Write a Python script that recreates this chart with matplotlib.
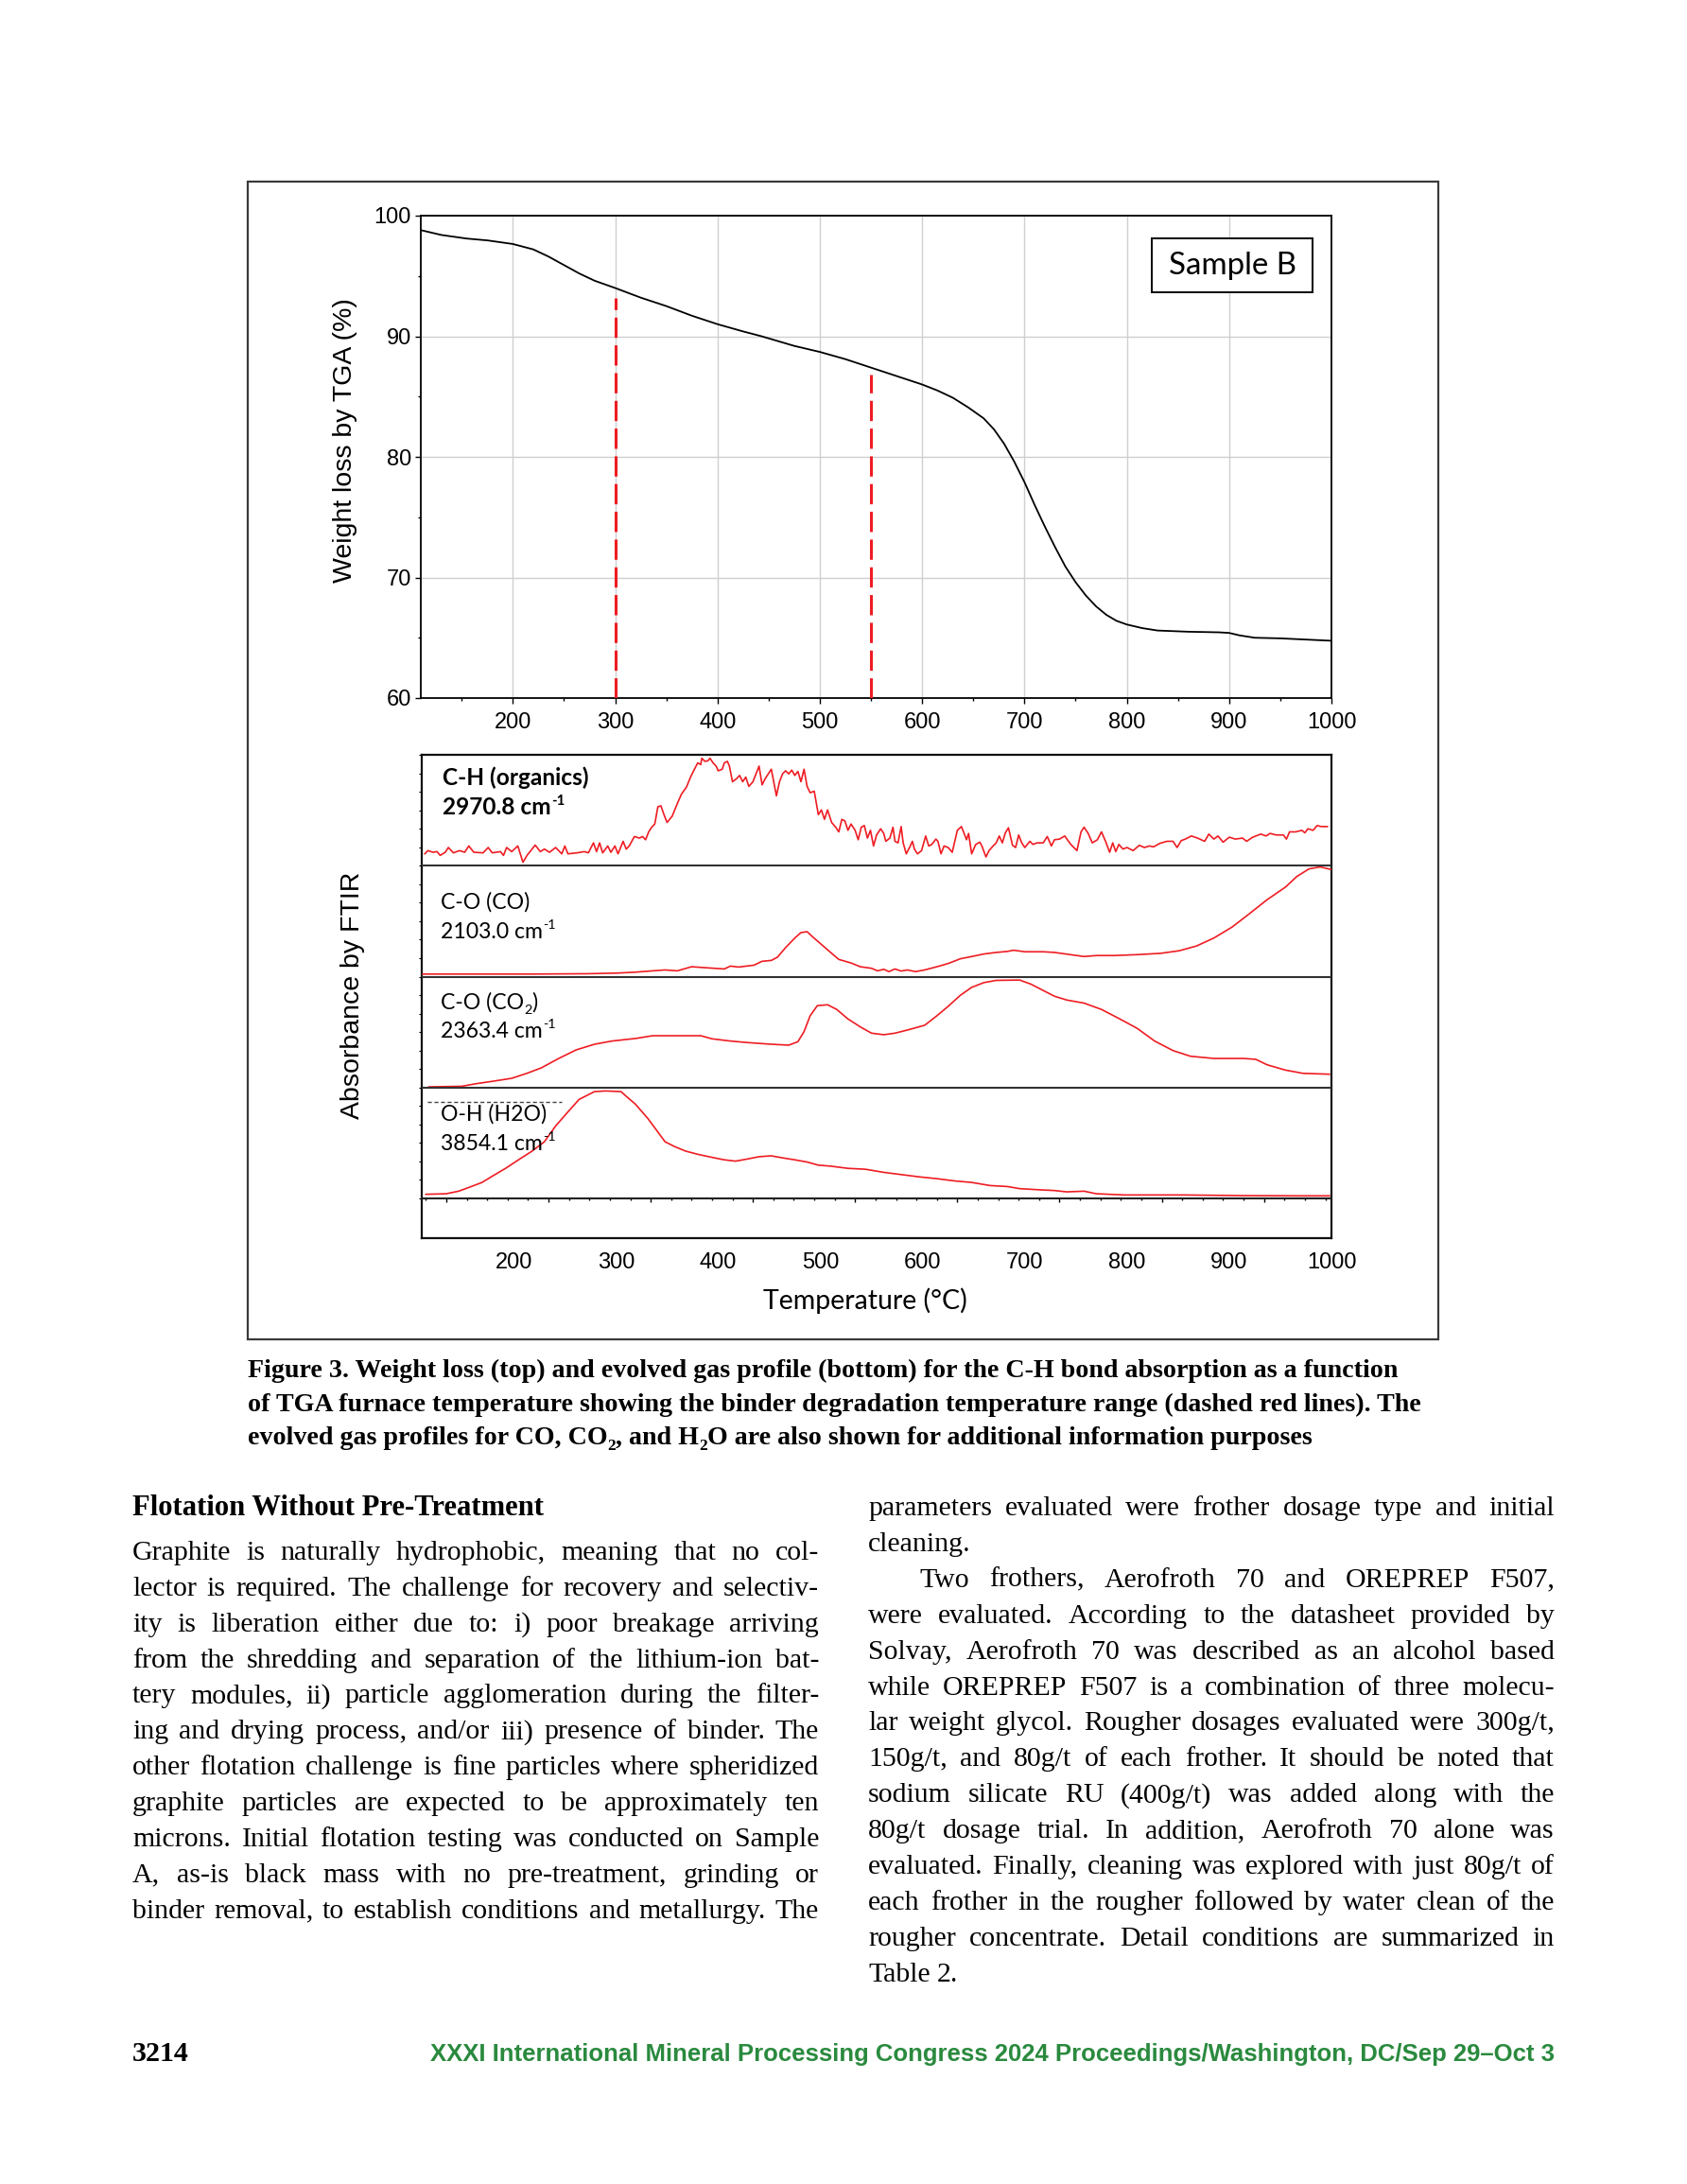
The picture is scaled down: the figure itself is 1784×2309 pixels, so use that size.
import numpy as np
import matplotlib
matplotlib.use('Agg')
import matplotlib.pyplot as plt
from matplotlib.patches import Rectangle
from matplotlib.ticker import MultipleLocator, FixedLocator

W, H = 1784, 2309
plt.rcParams['font.family'] = ['Liberation Sans', 'DejaVu Sans']
SERIF = ['Liberation Serif', 'DejaVu Serif']
CALIBRI = ['Lato', 'DejaVu Sans']
RED = '#ee1d23'

# TGA weight loss curve, Sample B
tga_temp = [110, 130, 155, 175, 200, 220, 235, 250, 265, 280, 300, 325, 350, 375, 400, 425, 443,
            475, 500, 525, 550, 575, 600, 615, 630, 645, 660, 670, 680, 690, 700, 710, 720, 730,
            740, 750, 760, 770, 780, 790, 800, 815, 830, 860, 890, 900, 910, 925, 950, 975, 1000]
tga_weight = [98.8, 98.4, 98.1, 97.95, 97.65, 97.2, 96.6, 95.9, 95.2, 94.6, 94.0, 93.2, 92.5,
              91.7, 91.0, 90.4, 90.0, 89.2, 88.7, 88.1, 87.4, 86.7, 86.0, 85.5, 84.9, 84.1, 83.2,
              82.3, 81.1, 79.6, 77.9, 76.0, 74.2, 72.5, 70.9, 69.6, 68.5, 67.6, 66.9, 66.4, 66.1,
              65.8, 65.6, 65.5, 65.45, 65.4, 65.2, 65.0, 64.95, 64.85, 64.75]

# binder degradation range (dashed red lines)
binder_temp = [300, 550]
binder_top = [93.2, 86.8]

# FTIR evolved gas profiles, absorbance normalised to each strip (0 = bottom, 1 = top)
ch_temp = [113, 116, 121, 125, 128, 133, 136, 141, 147, 152, 156, 161, 170, 175, 179, 187, 190,
           193, 198, 204, 209, 213, 221, 226, 230, 235, 241, 247, 250, 253, 262, 269, 273, 278,
           281, 284, 287, 292, 295, 299, 302, 307, 310, 313, 318, 323, 326, 329, 332, 335, 338,
           341, 344, 347, 350, 355, 360, 364, 369, 373, 376, 380, 383, 384, 387, 390, 392, 395,
           398, 400, 404, 406, 409, 411, 414, 418, 421, 424, 427, 430, 434, 437, 440, 443, 446,
           449, 452, 457, 460, 463, 466, 469, 472, 475, 478, 481, 484, 487, 490, 494, 498, 501,
           504, 507, 511, 515, 518, 521, 524, 527, 530, 534, 537, 540, 543, 546, 549, 552, 555,
           559, 562, 564, 568, 571, 573, 576, 579, 581, 584, 588, 590, 592, 595, 599, 603, 606,
           609, 613, 615, 618, 621, 625, 629, 634, 638, 640, 643, 645, 648, 652, 656, 658, 662,
           665, 669, 672, 675, 678, 681, 684, 688, 691, 694, 697, 700, 705, 708, 712, 718, 722,
           726, 729, 734, 739, 745, 751, 755, 758, 762, 766, 771, 775, 779, 783, 786, 789, 792,
           796, 800, 806, 812, 817, 822, 826, 832, 839, 845, 849, 853, 857, 863, 869, 876, 880,
           885, 889, 894, 900, 906, 913, 917, 923, 931, 936, 940, 946, 953, 956, 959, 965, 971,
           974, 977, 982, 986, 990, 996]
ch_abs = [0.107, 0.136, 0.121, 0.127, 0.093, 0.121, 0.164, 0.116, 0.136, 0.121, 0.178, 0.121,
          0.116, 0.164, 0.116, 0.127, 0.093, 0.164, 0.127, 0.178, 0.031, 0.093, 0.186, 0.127,
          0.150, 0.121, 0.164, 0.107, 0.178, 0.107, 0.116, 0.127, 0.116, 0.206, 0.127, 0.206,
          0.116, 0.178, 0.121, 0.178, 0.107, 0.220, 0.150, 0.178, 0.263, 0.249, 0.263, 0.234,
          0.305, 0.347, 0.376, 0.531, 0.540, 0.460, 0.390, 0.446, 0.559, 0.644, 0.709, 0.799,
          0.856, 0.927, 0.912, 0.969, 0.941, 0.946, 0.969, 0.927, 0.898, 0.856, 0.870, 0.927,
          0.941, 0.898, 0.757, 0.785, 0.814, 0.757, 0.799, 0.715, 0.757, 0.828, 0.898, 0.729,
          0.785, 0.828, 0.870, 0.630, 0.757, 0.828, 0.856, 0.828, 0.862, 0.814, 0.850, 0.757,
          0.870, 0.715, 0.658, 0.672, 0.460, 0.503, 0.418, 0.503, 0.390, 0.347, 0.305, 0.418,
          0.404, 0.319, 0.376, 0.319, 0.234, 0.347, 0.362, 0.249, 0.319, 0.178, 0.277, 0.333,
          0.291, 0.220, 0.249, 0.347, 0.220, 0.206, 0.353, 0.206, 0.107, 0.178, 0.220, 0.150,
          0.107, 0.136, 0.268, 0.178, 0.192, 0.240, 0.220, 0.107, 0.178, 0.164, 0.121, 0.319,
          0.353, 0.305, 0.234, 0.291, 0.107, 0.192, 0.212, 0.178, 0.079, 0.136, 0.178, 0.206,
          0.268, 0.206, 0.297, 0.342, 0.184, 0.164, 0.277, 0.206, 0.164, 0.220, 0.192, 0.206,
          0.206, 0.263, 0.178, 0.234, 0.240, 0.268, 0.192, 0.136, 0.305, 0.347, 0.291, 0.206,
          0.234, 0.305, 0.220, 0.121, 0.206, 0.127, 0.192, 0.150, 0.164, 0.136, 0.184, 0.164,
          0.178, 0.170, 0.201, 0.220, 0.220, 0.164, 0.226, 0.240, 0.268, 0.249, 0.220, 0.285,
          0.240, 0.268, 0.212, 0.257, 0.240, 0.249, 0.220, 0.257, 0.285, 0.268, 0.291, 0.277,
          0.277, 0.240, 0.305, 0.305, 0.319, 0.297, 0.333, 0.319, 0.362, 0.353, 0.353]

co_temp = [111, 221, 273, 302, 319, 336, 348, 360, 374, 388, 406, 412, 420, 435, 443, 452, 458,
           466, 475, 481, 487, 492, 501, 510, 518, 530, 539, 550, 556, 562, 567, 573, 579, 585,
           593, 602, 614, 625, 637, 648, 660, 672, 683, 689, 700, 718, 729, 747, 758, 770, 787,
           810, 833, 851, 868, 885, 903, 920, 937, 955, 966, 978, 989, 1000]
co_abs = [0.023, 0.023, 0.026, 0.032, 0.040, 0.052, 0.060, 0.052, 0.089, 0.080, 0.069, 0.095,
          0.086, 0.103, 0.138, 0.146, 0.175, 0.262, 0.348, 0.397, 0.405, 0.362, 0.290, 0.218,
          0.155, 0.123, 0.089, 0.075, 0.052, 0.066, 0.045, 0.069, 0.050, 0.060, 0.045, 0.060,
          0.089, 0.118, 0.161, 0.181, 0.204, 0.218, 0.227, 0.238, 0.224, 0.224, 0.218, 0.195,
          0.181, 0.190, 0.190, 0.198, 0.210, 0.233, 0.276, 0.348, 0.448, 0.569, 0.693, 0.807,
          0.902, 0.971, 0.989, 0.965]

co2_temp = [117, 149, 163, 180, 198, 212, 227, 244, 261, 279, 296, 319, 336, 383, 394, 412, 429,
            452, 469, 478, 484, 490, 497, 507, 516, 527, 539, 550, 562, 573, 585, 602, 614, 625,
            637, 648, 660, 672, 695, 706, 718, 729, 741, 758, 775, 793, 810, 827, 845, 862, 885,
            914, 926, 937, 955, 972, 998]
co2_abs = [0.006, 0.011, 0.034, 0.057, 0.083, 0.125, 0.177, 0.262, 0.339, 0.390, 0.419, 0.442,
           0.467, 0.467, 0.439, 0.419, 0.405, 0.390, 0.382, 0.413, 0.504, 0.647, 0.738, 0.746,
           0.704, 0.618, 0.547, 0.490, 0.476, 0.490, 0.518, 0.561, 0.647, 0.732, 0.832, 0.903,
           0.946, 0.966, 0.969, 0.932, 0.875, 0.823, 0.789, 0.761, 0.704, 0.618, 0.533, 0.419,
           0.333, 0.282, 0.262, 0.262, 0.254, 0.205, 0.157, 0.128, 0.120]

h2o_temp = [114, 134, 146, 157, 169, 180, 192, 206, 218, 230, 241, 253, 264, 273, 279, 290, 305,
            310, 319, 331, 339, 348, 357, 368, 380, 394, 406, 417, 429, 440, 452, 464, 475, 487,
            498, 510, 527, 544, 562, 579, 596, 614, 631, 648, 666, 683, 695, 712, 729, 741, 758,
            770, 798, 856, 914, 972, 998]
h2o_abs = [0.037, 0.042, 0.065, 0.102, 0.144, 0.206, 0.271, 0.356, 0.427, 0.511, 0.653, 0.780,
           0.893, 0.935, 0.963, 0.969, 0.963, 0.921, 0.850, 0.723, 0.624, 0.511, 0.469, 0.427,
           0.398, 0.370, 0.348, 0.336, 0.356, 0.376, 0.384, 0.364, 0.348, 0.328, 0.300, 0.291,
           0.271, 0.263, 0.235, 0.215, 0.195, 0.178, 0.158, 0.144, 0.116, 0.107, 0.088, 0.079,
           0.071, 0.059, 0.065, 0.042, 0.031, 0.031, 0.025, 0.023, 0.023]

# strips from top to bottom
strips = [(ch_temp, ch_abs), (co_temp, co_abs), (co2_temp, co2_abs), (h2o_temp, h2o_abs)]

# leftover dashed fragment in the H2O strip
stub_temp = [116, 247]
stub_level = 0.87

caption = ["Figure 3. Weight loss (top) and evolved gas profile (bottom) for the C-H bond absorption as a function",
           "of TGA furnace temperature showing the binder degradation temperature range (dashed red lines). The"]

left_lines = ["Graphite is naturally hydrophobic, meaning that no col-",
              "lector is required. The challenge for recovery and selectiv-",
              "ity is liberation either due to: i) poor breakage arriving",
              "from the shredding and separation of the lithium-ion bat-",
              "tery modules, ii) particle agglomeration during the filter-",
              "ing and drying process, and/or iii) presence of binder. The",
              "other flotation challenge is fine particles where spheridized",
              "graphite particles are expected to be approximately ten",
              "microns. Initial flotation testing was conducted on Sample",
              "A, as-is black mass with no pre-treatment, grinding or",
              "binder removal, to establish conditions and metallurgy. The"]

right_lines = ["parameters evaluated were frother dosage type and initial",
               "cleaning.",
               "Two frothers, Aerofroth 70 and OREPREP F507,",
               "were evaluated. According to the datasheet provided by",
               "Solvay, Aerofroth 70 was described as an alcohol based",
               "while OREPREP F507 is a combination of three molecu-",
               "lar weight glycol. Rougher dosages evaluated were 300g/t,",
               "150g/t, and 80g/t of each frother. It should be noted that",
               "sodium silicate RU (400g/t) was added along with the",
               "80g/t dosage trial. In addition, Aerofroth 70 alone was",
               "evaluated. Finally, cleaning was explored with just 80g/t of",
               "each frother in the rougher followed by water clean of the",
               "rougher concentrate. Detail conditions are summarized in",
               "Table 2."]
right_ragged = [1, 13]

fig = plt.figure(figsize=(W / 100, H / 100), dpi=100)
rend = fig.canvas.get_renderer()


def rect(x0, y0, x1, y1):
    return [x0 / W, 1 - y1 / H, (x1 - x0) / W, (y1 - y0) / H]


def put(x, y, s, size, **kw):
    return fig.text(x / W, 1 - y / H, s, fontsize=size, **kw)


def width_of(s, size, **kw):
    t = put(0, 0, s, size, **kw)
    w = t.get_window_extent(rend).width
    t.remove()
    return w


def fit(s, target, **kw):
    return 20 * target / width_of(s, 20, **kw)


def rich(x, y, parts, size, **kw):
    # parts: (text, shift) with shift 0 normal, -1 subscript, 1 superscript
    em = size * 100 / 72
    cx = x
    for s, shift in parts:
        fs = size * 0.62 if shift else size
        dy = {0: 0, -1: 0.22 * em, 1: -0.42 * em}[shift]
        t = put(cx, y + dy, s, fs, va='baseline', ha='left', **kw)
        cx += t.get_window_extent(rend).width


def line_words(line, x0, x1, y, size, justify=True, **kw):
    words = line.split()
    sp = width_of('a a', size, **kw) - width_of('aa', size, **kw)
    ws = [width_of(w, size, **kw) for w in words]
    if justify and len(words) > 1:
        # shrink the type a little when the line would not fit with tight spaces
        nat = sum(ws) + (len(words) - 1) * sp * 0.55
        if nat > x1 - x0:
            size = size * (x1 - x0) / nat
            sp = width_of('a a', size, **kw) - width_of('aa', size, **kw)
            ws = [width_of(w, size, **kw) for w in words]
        gap = (x1 - x0 - sum(ws)) / (len(words) - 1)
    else:
        gap = sp
    cx = x0
    for w, wd in zip(words, ws):
        put(cx, y, w, size, va='baseline', ha='left', **kw)
        cx += wd + gap


# page frame around the figure
fig.patches.append(Rectangle((262 / W, 1 - 1416 / H), 1259 / W, 1224 / H, transform=fig.transFigure,
                             fill=False, edgecolor='#3a3a3a', lw=1.6))

# ---- top: TGA ----
ax1 = fig.add_axes(rect(445, 228, 1408, 738))
ax1.plot(tga_temp, tga_weight, color='black', lw=1.3, zorder=3)
for x, top in zip(binder_temp, binder_top):
    ax1.plot([x, x], [60, top], color=RED, lw=2.2, dashes=(7, 2.6), zorder=3)
ax1.set_xlim(110, 1000)
ax1.set_ylim(60, 100)
ax1.xaxis.set_major_locator(MultipleLocator(100))
ax1.xaxis.set_minor_locator(FixedLocator(np.arange(150, 1000, 100)))
ax1.yaxis.set_major_locator(MultipleLocator(10))
ax1.yaxis.set_minor_locator(MultipleLocator(5))
ax1.grid(True, which='major', color='#cfcfcf', lw=1)
ax1.tick_params(which='major', direction='out', length=4.3, width=1, labelsize=17)
ax1.tick_params(which='minor', direction='out', length=2.5, width=1)
ax1.tick_params(axis='x', pad=6.8)
ax1.tick_params(axis='y', pad=3)
for sp in ax1.spines.values():
    sp.set_linewidth(1.3)
ax1.add_patch(Rectangle((0.8027, 0.8412), 0.1765, 0.1118, transform=ax1.transAxes,
                        fill=True, facecolor='white', edgecolor='black', lw=1.4, zorder=4))
sb = fit('Sample B', 135, family=CALIBRI)
ax1.text(0.891, 0.897, 'Sample B', transform=ax1.transAxes, ha='center', va='center',
         fontsize=sb, family=CALIBRI, zorder=5)

put(365, 466, 'Weight loss by TGA (%)', 20.5, rotation=90, ha='center', va='center')

# ---- bottom: FTIR strips ----
ax2 = fig.add_axes(rect(446, 798, 1408, 1309))
ax2.set_xlim(110, 1000)
ax2.set_ylim(0, 1)
ax2.set_yticks([])
ax2.xaxis.set_major_locator(MultipleLocator(100))
ax2.tick_params(axis='x', length=0, labelsize=17, pad=11)
for sp in ax2.spines.values():
    sp.set_linewidth(1.6)
    sp.set_color('#111111')

ax3 = fig.add_axes(rect(446, 798, 1408, 1267), facecolor='none')
ax3.set_xlim(110, 1000)
ax3.set_ylim(0, 4)
for i, (t, a) in enumerate(strips):
    ax3.plot(t, np.array(a) + 3 - i, color=RED, lw=1.2)
for level in [1, 2, 3]:
    ax3.axhline(level, color='#333333', lw=1.5)
ax3.plot(stub_temp, [stub_level, stub_level], color='#444444', lw=1, dashes=(3, 2))
ax3.xaxis.set_major_locator(FixedLocator(np.arange(134, 1000, 100)))
ax3.xaxis.set_minor_locator(FixedLocator([v for v in np.arange(114, 1000, 20) if (v - 134) % 100]))
ax3.yaxis.set_major_locator(MultipleLocator(1 / 6))
ax3.tick_params(which='major', axis='x', direction='out', length=3, width=1, labelbottom=False)
ax3.tick_params(which='minor', axis='x', direction='out', length=1.5, width=1)
ax3.tick_params(axis='y', direction='out', length=2.2, width=0.8, labelleft=False)
for side in ['top', 'right', 'left']:
    ax3.spines[side].set_visible(False)
ax3.spines['bottom'].set_linewidth(1.5)
ax3.spines['bottom'].set_color('#222222')

# strip labels
lab = fit('C-O (CO)', 94, family=CALIBRI)
labb = fit('C-H (organics)', 154, family=CALIBRI, weight='bold')
rich(468, 830, [('C-H (organics)', 0)], labb, family=CALIBRI, weight='bold')
rich(468, 861, [('2970.8 cm', 0), ('-1', 1)], labb, family=CALIBRI, weight='bold')
rich(466, 961, [('C-O (CO)', 0)], lab, family=CALIBRI)
rich(466, 992, [('2103.0 cm', 0), ('-1', 1)], lab, family=CALIBRI)
rich(466, 1067, [('C-O (CO', 0), ('2', -1), (')', 0)], lab, family=CALIBRI)
rich(466, 1097, [('2363.4 cm', 0), ('-1', 1)], lab, family=CALIBRI)
rich(466, 1185, [('O-H (H2O)', 0)], lab, family=CALIBRI)
rich(466, 1216, [('3854.1 cm', 0), ('-1', 1)], lab, family=CALIBRI)

put(373, 1052, 'Absorbance by FTIR', 20.5, rotation=90, ha='center', va='center')
put(915, 1375, 'Temperature (°C)', fit('Temperature (°C)', 217, family=CALIBRI),
    family=CALIBRI, ha='center', va='center')

# ---- caption ----
cap = fit(caption[0], 1217, family=SERIF, weight='bold')
put(262, 1456, caption[0], cap, family=SERIF, weight='bold', va='baseline')
put(262, 1491.5, caption[1], cap, family=SERIF, weight='bold', va='baseline')
rich(262, 1527, [('evolved gas profiles for CO, CO', 0), ('2', -1), (', and H', 0), ('2', -1),
                 ('O are also shown for additional information purposes', 0)],
     cap, family=SERIF, weight='bold')

# ---- body text ----
body = 21.5
put(140, 1602, 'Flotation Without Pre-Treatment', fit('Flotation Without Pre-Treatment', 434,
    family=SERIF, weight='bold'), family=SERIF, weight='bold', va='baseline')
for i, ln in enumerate(left_lines):
    line_words(ln, 140, 866, 1649 + 37.86 * i, body, family=SERIF)
for i, ln in enumerate(right_lines):
    x0 = 972 if ln.startswith('Two') else 918
    line_words(ln, x0, 1644, 1602 + 37.9 * i, body, justify=i not in right_ragged, family=SERIF)

# ---- footer ----
put(140, 2179, '3214', fit('3214', 60, family=SERIF, weight='bold'), family=SERIF,
    weight='bold', va='baseline')
foot = 'XXXI International Mineral Processing Congress 2024 Proceedings/Washington, DC/Sep 29\u2013Oct 3'
put(1644, 2179, foot, fit(foot, 1192, weight='bold'), weight='bold', color='#2a8a3e',
    ha='right', va='baseline')

fig.savefig('out.png', dpi=100, facecolor='white')
